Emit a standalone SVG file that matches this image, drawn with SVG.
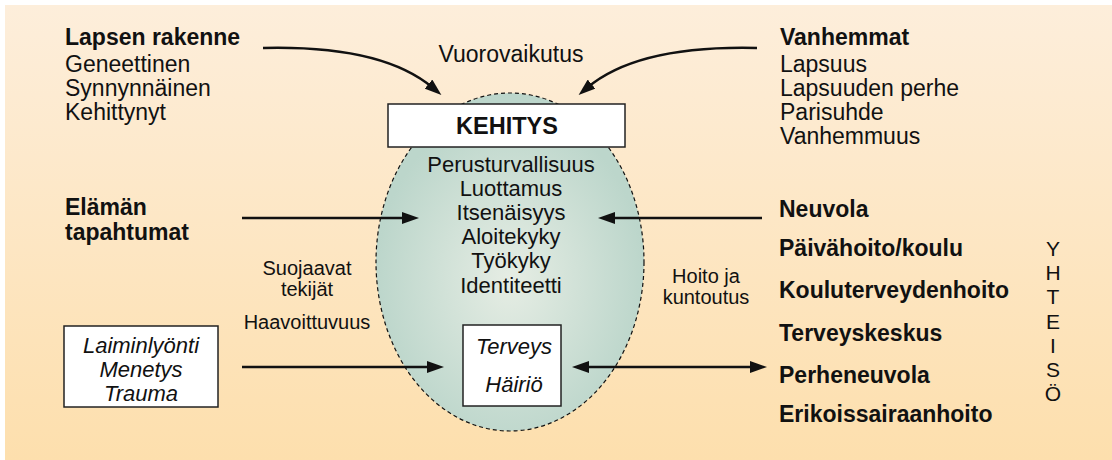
<svg xmlns="http://www.w3.org/2000/svg" width="1112" height="460" viewBox="0 0 1112 460">
  <defs>
    <linearGradient id="bg" x1="0" y1="0" x2="0" y2="1">
      <stop offset="0" stop-color="#fdeedb"/>
      <stop offset="1" stop-color="#fddfad"/>
    </linearGradient>
    <radialGradient id="ell" cx="0.5" cy="0.55" r="0.5">
      <stop offset="0" stop-color="#e6ede4"/>
      <stop offset="1" stop-color="#bcd6cb"/>
    </radialGradient>
    <marker id="ah" viewBox="0 0 17 12" refX="6" refY="6" markerWidth="17" markerHeight="12" markerUnits="userSpaceOnUse" orient="auto-start-reverse">
      <path d="M0,0 L17,6 L0,12 z" fill="#111"/>
    </marker>
    <style>
      text { font-family: "Liberation Sans", Arial, sans-serif; fill: #111; }
      .b { font-weight: bold; font-size: 23px; }
      .r { font-size: 23px; }
      .c { font-size: 22px; text-anchor: middle; }
      .s { font-size: 20px; text-anchor: middle; }
      .i { font-size: 22px; font-style: italic; text-anchor: middle; }
      .y { font-size: 21px; text-anchor: middle; }
      .box { fill: #fff; stroke: #222; stroke-width: 1.5; }
      .conn { fill: none; stroke: #111; stroke-width: 2.5; marker-end: url(#ah); }
    </style>
  </defs>

  <rect x="5" y="5" width="1107" height="455" fill="url(#bg)"/>

  <g id="kehitys-alue">
    <ellipse cx="510" cy="262" rx="134" ry="169" fill="url(#ell)" stroke="#111" stroke-width="1.2" stroke-dasharray="4 3"/>
  </g>

  <g id="connectors">
    <path class="conn" d="M263,48 C345,46 400,60 433,88"/>
    <path class="conn" d="M757,48 C675,46 620,60 587,88"/>
    <line class="conn" x1="242" y1="218" x2="408" y2="218"/>
    <line class="conn" x1="762" y1="218" x2="609" y2="218"/>
    <line class="conn" x1="242" y1="367" x2="433" y2="367"/>
    <line class="conn" x1="583" y1="367" x2="756" y2="367" marker-start="url(#ah)"/>
  </g>

  <g id="lapsen-rakenne">
    <text class="b" x="65" y="45">Lapsen rakenne</text>
    <text class="r" x="65" y="72">Geneettinen</text>
    <text class="r" x="65" y="96">Synnynnäinen</text>
    <text class="r" x="65" y="120">Kehittynyt</text>
  </g>

  <g id="vuorovaikutus">
    <text class="c" x="511" y="62" style="font-size:23px">Vuorovaikutus</text>
  </g>

  <g id="vanhemmat">
    <text class="b" x="780" y="45">Vanhemmat</text>
    <text class="r" x="780" y="72">Lapsuus</text>
    <text class="r" x="780" y="96">Lapsuuden perhe</text>
    <text class="r" x="780" y="120">Parisuhde</text>
    <text class="r" x="780" y="144">Vanhemmuus</text>
  </g>

  <g id="kehitys">
    <rect class="box" x="388" y="104" width="237" height="43"/>
    <text class="c" x="507" y="134" style="font-weight:bold;font-size:23.5px">KEHITYS</text>
  </g>

  <g id="kehitys-lista">
    <text class="c" x="511" y="172">Perusturvallisuus</text>
    <text class="c" x="511" y="196">Luottamus</text>
    <text class="c" x="511" y="220">Itsenäisyys</text>
    <text class="c" x="511" y="244">Aloitekyky</text>
    <text class="c" x="511" y="268">Työkyky</text>
    <text class="c" x="511" y="293">Identiteetti</text>
  </g>

  <g id="elaman-tapahtumat">
    <text class="b" x="65" y="215">Elämän</text>
    <text class="b" x="65" y="240">tapahtumat</text>
  </g>

  <g id="suojaavat">
    <text class="s" x="307" y="275">Suojaavat</text>
    <text class="s" x="307" y="296">tekijät</text>
    <text class="s" x="307" y="329">Haavoittuvuus</text>
  </g>

  <g id="laiminlyonti">
    <rect class="box" x="64" y="326" width="154" height="81"/>
    <text class="i" x="141" y="353">Laiminlyönti</text>
    <text class="i" x="141" y="377">Menetys</text>
    <text class="i" x="141" y="401">Trauma</text>
  </g>

  <g id="terveys">
    <rect class="box" x="463" y="325" width="98" height="81"/>
    <text class="i" x="514" y="354">Terveys</text>
    <text class="i" x="514" y="392">Häiriö</text>
  </g>

  <g id="hoito">
    <text class="s" x="706" y="283">Hoito ja</text>
    <text class="s" x="706" y="304">kuntoutus</text>
  </g>

  <g id="palvelut">
    <text class="b" x="779" y="217">Neuvola</text>
    <text class="b" x="779" y="256">Päivähoito/koulu</text>
    <text class="b" x="779" y="298">Kouluterveydenhoito</text>
    <text class="b" x="779" y="341">Terveyskeskus</text>
    <text class="b" x="779" y="383">Perheneuvola</text>
    <text class="b" x="779" y="422">Erikoissairaanhoito</text>
  </g>

  <g id="yhteiso">
    <text class="y" x="1053" y="256">Y</text>
    <text class="y" x="1053" y="280">H</text>
    <text class="y" x="1053" y="304">T</text>
    <text class="y" x="1053" y="329">E</text>
    <text class="y" x="1053" y="353">I</text>
    <text class="y" x="1053" y="377">S</text>
    <text class="y" x="1053" y="401">Ö</text>
  </g>
</svg>
